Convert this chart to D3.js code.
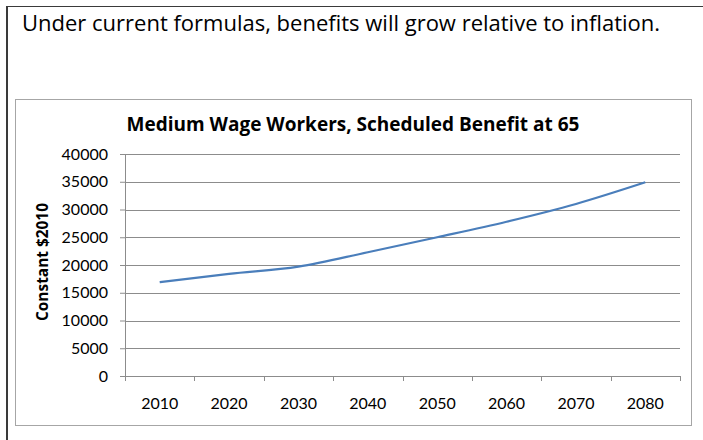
<!DOCTYPE html>
<html>
<head>
<meta charset="utf-8">
<script src="https://cdn.jsdelivr.net/npm/d3@7"></script>
<style>
  body { margin: 0; background: #fff; }
</style>
</head>
<body>
<div id="chart"></div>
<script>
// data
var years = ["2010", "2020", "2030", "2040", "2050", "2060", "2070", "2080"];
var benefit = [16900, 18400, 19700, 22300, 25000, 27800, 31000, 34900];
var yTicks = [0, 5000, 10000, 15000, 20000, 25000, 30000, 35000, 40000];

var svgWidth = 703;
var svgHeight = 440;

// plot area
var margin = {top: 154, right: 23, bottom: 64, left: 125};
var width = svgWidth - margin.left - margin.right;
var height = svgHeight - margin.top - margin.bottom;

var svg = d3.select("#chart")
    .append("svg")
    .attr("width", svgWidth)
    .attr("height", svgHeight)
    .style("font-family", "Lato, 'Open Sans', sans-serif");

// shrink/grow a text's font size so it spans about the same width as in the picture
function fitWidth(sel, size, target) {
    var len = sel.node().getComputedTextLength();
    sel.style("font-size", (size * target / len).toFixed(2) + "px");
}

// outer slide frame
svg.append("line")
    .attr("x1", 7).attr("x2", 7)
    .attr("y1", 6).attr("y2", svgHeight)
    .attr("stroke", "#3a3a3a")
    .attr("stroke-width", 2);
svg.append("line")
    .attr("x1", 6).attr("x2", svgWidth)
    .attr("y1", 6.5).attr("y2", 6.5)
    .attr("stroke", "#3a3a3a")
    .attr("stroke-width", 1);

var pageTitle = svg.append("text")
    .attr("x", 22)
    .attr("y", 31)
    .style("font-family", "'Open Sans', sans-serif")
    .style("font-size", "20px")
    .text("Under current formulas, benefits will grow relative to inflation.");
fitWidth(pageTitle, 20, 638);

// chart frame
svg.append("rect")
    .attr("x", 15.5)
    .attr("y", 99.5)
    .attr("width", 676)
    .attr("height", 326)
    .attr("fill", "#fff")
    .attr("stroke", "#a6a6a6")
    .attr("stroke-width", 1);

var chartTitle = svg.append("text")
    .attr("x", 353)
    .attr("y", 131)
    .attr("text-anchor", "middle")
    .style("font-family", "'Open Sans', sans-serif")
    .style("font-size", "17px")
    .style("font-weight", "bold")
    .text("Medium Wage Workers, Scheduled Benefit at 65");
fitWidth(chartTitle, 17, 453);

var chartGroup = svg.append("g")
    .attr("transform", `translate(${margin.left}, ${margin.top})`);

var xScale = d3.scaleBand()
    .domain(years)
    .range([0, width])
    .padding(0);

var yScale = d3.scaleLinear()
    .domain([0, 40000])
    .range([height, 0]);

// gridlines
chartGroup.selectAll(".grid")
    .data(yTicks.slice(1))
    .enter()
    .append("line")
    .attr("class", "grid")
    .attr("x1", 0)
    .attr("x2", width)
    .attr("y1", d => Math.round(yScale(d)) + 0.5)
    .attr("y2", d => Math.round(yScale(d)) + 0.5)
    .attr("stroke", "#8c8c8c")
    .attr("stroke-width", 1);

// y axis
var leftAxis = d3.axisLeft(yScale)
    .tickValues(yTicks)
    .tickFormat(d3.format("d"))
    .tickSize(5)
    .tickPadding(12);

var yAxisG = chartGroup.append("g")
    .call(leftAxis);
yAxisG.select(".domain").attr("stroke", "#8c8c8c");
yAxisG.selectAll(".tick line").attr("stroke", "#8c8c8c");
yAxisG.selectAll(".tick text")
    .style("font-family", "Lato, 'Open Sans', sans-serif")
    .style("font-size", "16px")
    .attr("fill", "#000");

// x axis: labels in band centres, ticks at band edges
var bottomAxis = d3.axisBottom(xScale)
    .tickSize(0)
    .tickPadding(22);

var xAxisG = chartGroup.append("g")
    .attr("transform", `translate(0, ${height})`)
    .call(bottomAxis);
xAxisG.select(".domain").attr("stroke", "#8c8c8c");
xAxisG.selectAll(".tick text")
    .style("font-family", "Lato, 'Open Sans', sans-serif")
    .style("font-size", "16px")
    .attr("fill", "#000");

xAxisG.selectAll(".edge")
    .data(years.concat(["end"]))
    .enter()
    .append("line")
    .attr("class", "edge")
    .attr("x1", (d, i) => Math.round(i < years.length ? xScale(d) : width) + 0.5)
    .attr("x2", (d, i) => Math.round(i < years.length ? xScale(d) : width) + 0.5)
    .attr("y1", 0)
    .attr("y2", 5)
    .attr("stroke", "#8c8c8c");

// y axis title
var yTitle = svg.append("text")
    .attr("transform", "translate(48, 262) rotate(-90)")
    .attr("text-anchor", "middle")
    .style("font-family", "'Open Sans', sans-serif")
    .style("font-size", "15px")
    .style("font-weight", "bold")
    .text("Constant $2010");
fitWidth(yTitle, 15, 118);

// series line
var line = d3.line()
    .x((d, i) => xScale(years[i]) + xScale.bandwidth() / 2)
    .y(d => yScale(d))
    .curve(d3.curveMonotoneX);

chartGroup.append("path")
    .datum(benefit)
    .attr("d", line)
    .attr("fill", "none")
    .attr("stroke", "#4a7ebb")
    .attr("stroke-width", 2.2);
</script>
</body>
</html>
